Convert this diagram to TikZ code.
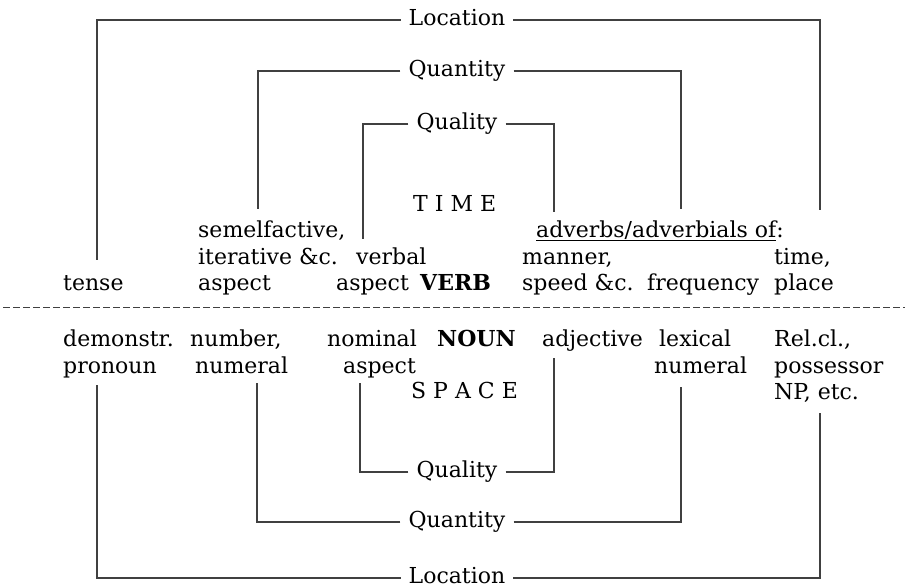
\documentclass[tikz,border=0pt]{standalone}
\usepackage{fontspec}
\setmainfont{DejaVu Serif}
\begin{document}
\begin{tikzpicture}[x=1pt,y=-1pt,
  txt/.style={anchor=base west,inner sep=0pt,font=\fontsize{22}{26}\selectfont},
  lab/.style={inner xsep=8pt,inner ysep=0pt,text height=11pt,text depth=0pt,font=\fontsize{22}{26}\selectfont},
  conn/.style={line width=1.1pt,draw=black!75},
  sep/.style={line width=1pt,draw=black!75,dash pattern=on 6.5pt off 3.5pt}]
\useasboundingbox (0,0) rectangle (905,587);

% central labels
\node[lab] (locT) at (457,20) {Location};
\node[lab] (quanT) at (457,71) {Quantity};
\node[lab] (qualT) at (457,124) {Quality};
\node[lab] (qualB) at (457,472) {Quality};
\node[lab] (quanB) at (457,522) {Quantity};
\node[lab] (locB) at (457,578) {Location};

\node[txt] (time) at (413,211) {T I M E};
\node[txt] (space) at (411,398) {S P A C E};

% upper rows
\node[txt] (tense) at (63,290) {tense};
\node[txt] (semel) at (198,237) {semelfactive,};
\node[txt] (iter) at (198,264) {iterative \&c.};
\node[txt] (asp1) at (198,290) {aspect};
\node[txt] (verbal) at (356,264) {verbal};
\node[txt] (asp2) at (336,290) {aspect};
\node[txt] (verb) at (420,290) {\bfseries VERB};
\node[txt] (adv) at (536,237) {\underline{adverbs/adverbials of}:};
\node[txt] (manner) at (522,264) {manner,};
\node[txt] (speed) at (522,290) {speed \&c.};
\node[txt] (freq) at (647,290) {frequency};
\node[txt] (timec) at (774,264) {time,};
\node[txt] (place) at (774,290) {place};

% separator
\coordinate (sl) at (3,307);
\coordinate (sr) at (905,307);
\draw[sep] (sl) -- (sr);

% lower rows
\node[txt] (demon) at (63,346) {demonstr.};
\node[txt] (pron) at (63,373) {pronoun};
\node[txt] (number) at (190,346) {number,};
\node[txt] (numeral1) at (195,373) {numeral};
\node[txt] (nominal) at (327,346) {nominal};
\node[txt] (asp3) at (343,373) {aspect};
\node[txt] (noun) at (437,346) {\bfseries NOUN};
\node[txt] (adj) at (542,346) {adjective};
\node[txt] (lex) at (659,346) {lexical};
\node[txt] (numeral2) at (654,373) {numeral};
\node[txt] (relcl) at (774,346) {Rel.cl.,};
\node[txt] (poss) at (774,373) {possessor};
\node[txt] (np) at (774,399) {NP, etc.};

% connector end points
\coordinate (eTense) at (97,260);
\coordinate (eTimePlace) at (820,210);
\coordinate (eSemel) at (258,209);
\coordinate (eFreq) at (681,209);
\coordinate (eVerbal) at (363,239);
\coordinate (eManner) at (554,212);
\coordinate (eNominal) at (360,383);
\coordinate (eAdj) at (554,358);
\coordinate (eNumber) at (257,383);
\coordinate (eLex) at (681,387);
\coordinate (eDemon) at (97,385);
\coordinate (eRel) at (820,413);

% connectors
\draw[conn] (locT.west) -| (eTense);
\draw[conn] (locT.east) -| (eTimePlace);
\draw[conn] (quanT.west) -| (eSemel);
\draw[conn] (quanT.east) -| (eFreq);
\draw[conn] (qualT.west) -| (eVerbal);
\draw[conn] (qualT.east) -| (eManner);
\draw[conn] (qualB.west) -| (eNominal);
\draw[conn] (qualB.east) -| (eAdj);
\draw[conn] (quanB.west) -| (eNumber);
\draw[conn] (quanB.east) -| (eLex);
\draw[conn] (locB.west) -| (eDemon);
\draw[conn] (locB.east) -| (eRel);
\end{tikzpicture}
\end{document}
